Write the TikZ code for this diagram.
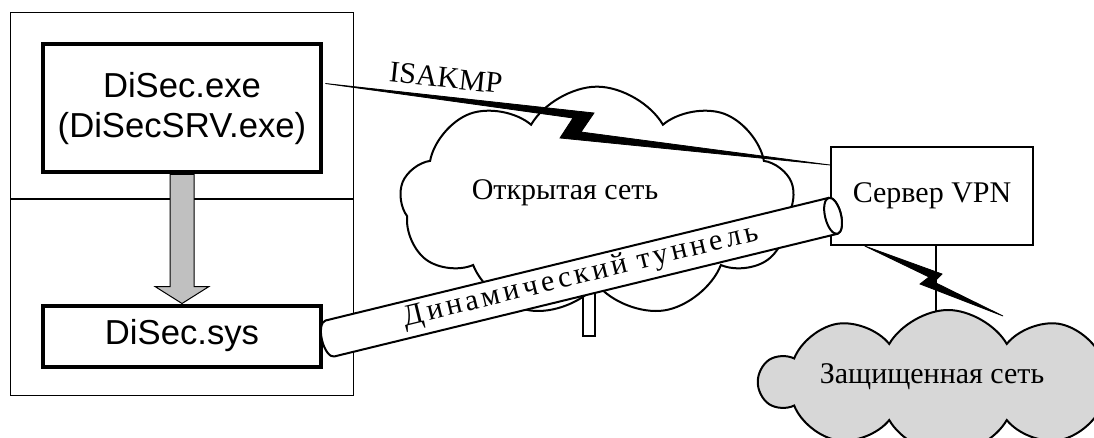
\documentclass[tikz,border=0pt]{standalone}
\usepackage{fontspec}
\setmainfont{Liberation Serif}
\newfontfamily\progfont{Liberation Sans}
\usetikzlibrary{shapes.symbols,calc}
\pgfdeclarelayer{background}
\pgfsetlayers{background,main}
\definecolor{arrowgray}{RGB}{192,192,192}
\definecolor{cloudgray}{RGB}{215,215,215}

\begin{document}
\begin{tikzpicture}[x=0.75pt, y=-0.75pt,
    font=\fontsize{22.5}{27}\selectfont,
    progbox/.style={draw, line width=3pt, fill=white, inner sep=0pt, align=center,
      font=\progfont\fontsize{26}{30}\selectfont},
    net/.style={cloud, cloud puffs=9, cloud puff arc=120, cloud ignores aspect,
      draw, line width=1.5pt, inner sep=0pt},
    bolt/.style={fill=black, draw=black, line width=0.6pt},
    tube/.style={draw, line width=1.5pt, fill=white}]

\useasboundingbox (0,0) rectangle (1094,438);

% Workstation frame
\draw[line width=1.1pt] (10.5,12.5) rectangle (353.5,395.5);
\draw[line width=1.1pt] (10.5,199) -- (353.5,199);

% Networks
\node (open) [net, fill=white, minimum width=296pt, minimum height=173pt] at (597,202) {};
\node (opentext) at (565,193) {Открытая сеть};
\begin{pgfonlayer}{background}
\draw[line width=1.1pt] (583,290) rectangle (595,336);
\end{pgfonlayer}
\draw[line width=1.1pt] (583,290) -- (583,336);
\node (secure) [net, cloud puffs=10, fill=cloudgray, minimum width=282pt,
  minimum height=108pt] at (948,382) {};
\node (securetext) at (932,377) {Защищенная сеть};

% VPN server
\node (vpn) [draw, line width=1.5pt, fill=white, minimum width=151.5pt,
  minimum height=73.5pt, inner sep=0pt] at (932,196) {Сервер VPN};

% Programs
\node (exe) [progbox, minimum width=209pt, minimum height=96pt] at (182,108.5)
  {DiSec.exe\\(DiSecSRV.exe)};
\node (sys) [progbox, minimum width=209pt, minimum height=45.75pt] at (182,336) {DiSec.sys};

% Driver call
\draw[line width=0.75pt, fill=arrowgray] ($(exe.south)+(-12,0)$) -- ($(sys.north)+(-12,-17)$)
  -- ($(sys.north)+(-27,-17)$) -- (sys.north) -- ($(sys.north)+(27,-17)$)
  -- ($(sys.north)+(12,-17)$) -- ($(exe.south)+(12,0)$) -- cycle;

% Tunnel from the driver to the server
\coordinate (tunstart) at ($(sys.east)+(6.5,2.5)$);
\begin{scope}[shift={(tunstart)}, rotate=13.7]
  \draw[tube] (0,-18.5) -- (518,-18.5)
    arc[start angle=-90, end angle=90, x radius=8, y radius=18.5] -- (0,18.5)
    arc[start angle=90, end angle=270, x radius=8, y radius=18.5] -- cycle;
  \draw[tube] (518,0) ellipse[x radius=8, y radius=18.5];
  \node (tunnel) [transform shape, font=\fontsize{22.5}{27}\selectfont\addfontfeatures{LetterSpace=12}]
    at (259,-1) {Динамический туннель};
\end{scope}

% ISAKMP link
\coordinate (isa1) at ($(exe.north east)+(2,41)$);
\coordinate (isa2) at ($(vpn.north west)+(0,19)$);
\fill[bolt] (isa1) -- (594,113) -- (581,132) -- (isa2) -- (560,138) -- (573,118) -- cycle;
\node (isakmp) [rotate=-6] at (446,78) {ISAKMP};

% Link to the protected network
\coordinate (lan1) at ($(vpn.south west)!0.17!(vpn.south east)$);
\coordinate (lan2) at (1003,316);
\coordinate (drop) at ($(vpn.south)+(4,80)$);
\begin{pgfonlayer}{background}
\draw[line width=1.1pt] ($(vpn.south)+(4,0)$) -- (drop);
\fill[bolt] (lan1) -- (942,274) -- (934,282) -- (lan2) -- (920,284) -- (929,277) -- cycle;
\end{pgfonlayer}

\end{tikzpicture}
\end{document}
